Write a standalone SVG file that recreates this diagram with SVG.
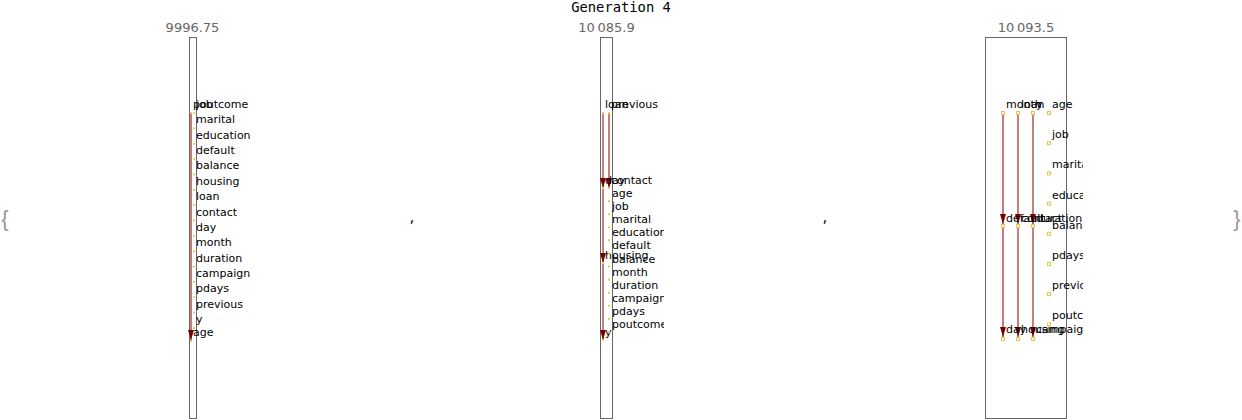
<svg xmlns="http://www.w3.org/2000/svg" width="1242" height="420" viewBox="0 0 1242 420">
<style>
.frame{fill:none;stroke:#666;stroke-width:1}
.lbl{font-family:"DejaVu Sans",sans-serif;font-size:11px;fill:#000}
.val{font-family:"DejaVu Sans",sans-serif;font-size:13px;fill:#666;text-anchor:middle}
.title{font-family:"DejaVu Sans Mono",monospace;font-size:13.8px;fill:#000;text-anchor:middle}
.dot{fill:#e6cf55}
.sq{fill:#fffbe6;stroke:#e0c850;stroke-width:1}
.e1{stroke:#b85a5a;stroke-width:1.6;fill:none}
.e2{stroke:#8b0000;stroke-width:1;fill:none}
.e3{stroke:#a83a3a;stroke-width:1.3;fill:none}
.brace{font-family:"Liberation Sans",sans-serif;font-size:22px;fill:#999;text-anchor:middle}
.comma{font-family:"DejaVu Sans",sans-serif;font-size:15px;fill:#000;text-anchor:middle}
</style>
<defs>
<marker id="ah" markerUnits="userSpaceOnUse" markerWidth="10" markerHeight="6" refX="10" refY="3" orient="auto" viewBox="0 0 10 6">
<path d="M0,0 L10,3 L0,6 z" fill="#7a0000"/>
</marker>
<clipPath id="c2"><rect x="560" y="0" width="104" height="420"/></clipPath>
<clipPath id="c3"><rect x="960" y="0" width="123" height="420"/></clipPath>
</defs>
<text class="title" x="621" y="12">Generation 4</text>
<text class="brace" x="5" y="226">{</text>
<text class="brace" x="1237" y="226">}</text>
<text class="comma" x="412" y="222">,</text>
<text class="comma" x="825" y="222">,</text>

<!-- Panel 1 -->
<g id="panel1">
<text class="val" x="192.5" y="32">9996.75</text>
<rect class="frame" x="189.5" y="37.5" width="7" height="381"/>
<g id="p1-connectors">
<line class="e1" x1="191" y1="113" x2="191" y2="340" marker-end="url(#ah)"/>
</g>
<g id="p1-poutcome"><rect class="dot" x="190" y="112" width="2" height="2"/><text class="lbl" x="193" y="108">poutcome</text></g>
<g id="p1-age"><rect class="dot" x="190" y="340" width="2" height="2"/><text class="lbl" x="193" y="336">age</text></g>
<g id="p1-job"><rect class="dot" x="193" y="112" width="2" height="2"/><text class="lbl" x="196" y="108">job</text></g>
<g id="p1-marital"><rect class="dot" x="193" y="127.4" width="2" height="2"/><text class="lbl" x="196" y="123.4">marital</text></g>
<g id="p1-education"><rect class="dot" x="193" y="142.7" width="2" height="2"/><text class="lbl" x="196" y="138.7">education</text></g>
<g id="p1-default"><rect class="dot" x="193" y="158.1" width="2" height="2"/><text class="lbl" x="196" y="154.1">default</text></g>
<g id="p1-balance"><rect class="dot" x="193" y="173.4" width="2" height="2"/><text class="lbl" x="196" y="169.4">balance</text></g>
<g id="p1-housing"><rect class="dot" x="193" y="188.8" width="2" height="2"/><text class="lbl" x="196" y="184.8">housing</text></g>
<g id="p1-loan"><rect class="dot" x="193" y="204.1" width="2" height="2"/><text class="lbl" x="196" y="200.1">loan</text></g>
<g id="p1-contact"><rect class="dot" x="193" y="219.5" width="2" height="2"/><text class="lbl" x="196" y="215.5">contact</text></g>
<g id="p1-day"><rect class="dot" x="193" y="234.8" width="2" height="2"/><text class="lbl" x="196" y="230.8">day</text></g>
<g id="p1-month"><rect class="dot" x="193" y="250.2" width="2" height="2"/><text class="lbl" x="196" y="246.2">month</text></g>
<g id="p1-duration"><rect class="dot" x="193" y="265.5" width="2" height="2"/><text class="lbl" x="196" y="261.5">duration</text></g>
<g id="p1-campaign"><rect class="dot" x="193" y="280.9" width="2" height="2"/><text class="lbl" x="196" y="276.9">campaign</text></g>
<g id="p1-pdays"><rect class="dot" x="193" y="296.2" width="2" height="2"/><text class="lbl" x="196" y="292.2">pdays</text></g>
<g id="p1-previous"><rect class="dot" x="193" y="311.6" width="2" height="2"/><text class="lbl" x="196" y="307.6">previous</text></g>
<g id="p1-y"><rect class="dot" x="193" y="326.9" width="2" height="2"/><text class="lbl" x="196" y="322.9">y</text></g>
</g>

<!-- Panel 2 -->
<g id="panel2">
<text class="val" x="606.5" y="32">10&#8201;085.9</text>
<rect class="frame" x="600.5" y="37.5" width="12" height="381"/>
<g clip-path="url(#c2)">
<g id="p2-connectors">
<line class="e2" x1="603" y1="113" x2="603" y2="188" marker-end="url(#ah)"/>
<line class="e2" x1="609" y1="113" x2="609" y2="188" marker-end="url(#ah)"/>
<line class="e2" x1="603" y1="188" x2="603" y2="263" marker-end="url(#ah)"/>
<line class="e2" x1="603" y1="263" x2="603" y2="340" marker-end="url(#ah)"/>
</g>
<g id="p2-loan"><rect class="dot" x="602" y="112" width="2" height="2"/><text class="lbl" x="605" y="108">loan</text></g>
<g id="p2-previous"><rect class="dot" x="608" y="112" width="2" height="2"/><text class="lbl" x="611" y="108">previous</text></g>
<g id="p2-day"><rect class="dot" x="602" y="187" width="2" height="2"/><text class="lbl" x="605" y="184">day</text></g>
<g id="p2-contact"><rect class="dot" x="608" y="187" width="2" height="2"/><text class="lbl" x="611" y="184">contact</text></g>
<g id="p2-housing"><rect class="dot" x="602" y="262" width="2" height="2"/><text class="lbl" x="605" y="259">housing</text></g>
<g id="p2-y"><rect class="dot" x="602" y="339" width="2" height="2"/><text class="lbl" x="605" y="336">y</text></g>
<g id="p2-age"><rect class="dot" x="608" y="200" width="2" height="2"/><text class="lbl" x="612" y="197">age</text></g>
<g id="p2-job"><rect class="dot" x="608" y="213.1" width="2" height="2"/><text class="lbl" x="612" y="210.1">job</text></g>
<g id="p2-marital"><rect class="dot" x="608" y="226.2" width="2" height="2"/><text class="lbl" x="612" y="223.2">marital</text></g>
<g id="p2-education"><rect class="dot" x="608" y="239.3" width="2" height="2"/><text class="lbl" x="612" y="236.3">education</text></g>
<g id="p2-default"><rect class="dot" x="608" y="252.4" width="2" height="2"/><text class="lbl" x="612" y="249.4">default</text></g>
<g id="p2-balance"><rect class="dot" x="608" y="265.5" width="2" height="2"/><text class="lbl" x="612" y="262.5">balance</text></g>
<g id="p2-month"><rect class="dot" x="608" y="278.6" width="2" height="2"/><text class="lbl" x="612" y="275.6">month</text></g>
<g id="p2-duration"><rect class="dot" x="608" y="291.7" width="2" height="2"/><text class="lbl" x="612" y="288.7">duration</text></g>
<g id="p2-campaign"><rect class="dot" x="608" y="304.8" width="2" height="2"/><text class="lbl" x="612" y="301.8">campaign</text></g>
<g id="p2-pdays"><rect class="dot" x="608" y="317.9" width="2" height="2"/><text class="lbl" x="612" y="314.9">pdays</text></g>
<g id="p2-poutcome"><rect class="dot" x="608" y="331" width="2" height="2"/><text class="lbl" x="612" y="328">poutcome</text></g>
</g>
</g>

<!-- Panel 3 -->
<g id="panel3">
<text class="val" x="1026" y="32">10&#8201;093.5</text>
<rect class="frame" x="985.5" y="37.5" width="81" height="381"/>
<g clip-path="url(#c3)">
<g id="p3-connectors">
<line class="e1" x1="1003" y1="113" x2="1003" y2="224" marker-end="url(#ah)"/>
<line class="e2" x1="1018" y1="113" x2="1018" y2="224" marker-end="url(#ah)"/>
<line class="e3" x1="1033" y1="113" x2="1033" y2="224" marker-end="url(#ah)"/>
<line class="e1" x1="1003" y1="226" x2="1003" y2="337" marker-end="url(#ah)"/>
<line class="e2" x1="1018" y1="226" x2="1018" y2="337" marker-end="url(#ah)"/>
<line class="e3" x1="1033" y1="226" x2="1033" y2="337" marker-end="url(#ah)"/>
</g>
<g id="p3-month"><rect class="sq" x="1001.5" y="111.5" width="3" height="3"/><text class="lbl" x="1006" y="108">month</text></g>
<g id="p3-loan"><rect class="sq" x="1016.5" y="111.5" width="3" height="3"/><text class="lbl" x="1021" y="108">loan</text></g>
<g id="p3-y"><rect class="sq" x="1031.5" y="111.5" width="3" height="3"/><text class="lbl" x="1036" y="108">y</text></g>
<g id="p3-default"><rect class="sq" x="1001.5" y="224.5" width="3" height="3"/><text class="lbl" x="1006" y="222">default</text></g>
<g id="p3-contact"><rect class="sq" x="1016.5" y="224.5" width="3" height="3"/><text class="lbl" x="1021" y="222">contact</text></g>
<g id="p3-duration"><rect class="sq" x="1031.5" y="224.5" width="3" height="3"/><text class="lbl" x="1036" y="222">duration</text></g>
<g id="p3-day"><rect class="sq" x="1001.5" y="337.5" width="3" height="3"/><text class="lbl" x="1006" y="333">day</text></g>
<g id="p3-housing"><rect class="sq" x="1016.5" y="337.5" width="3" height="3"/><text class="lbl" x="1021" y="333">housing</text></g>
<g id="p3-campaign"><rect class="sq" x="1031.5" y="337.5" width="3" height="3"/><text class="lbl" x="1036" y="333">campaign</text></g>
<g id="p3-age"><rect class="sq" x="1047.5" y="111.5" width="3" height="3"/><text class="lbl" x="1052" y="108">age</text></g>
<g id="p3-job"><rect class="sq" x="1047.5" y="141.7" width="3" height="3"/><text class="lbl" x="1052" y="138.2">job</text></g>
<g id="p3-marital"><rect class="sq" x="1047.5" y="171.9" width="3" height="3"/><text class="lbl" x="1052" y="168.4">marital</text></g>
<g id="p3-education"><rect class="sq" x="1047.5" y="202.1" width="3" height="3"/><text class="lbl" x="1052" y="198.6">education</text></g>
<g id="p3-balance"><rect class="sq" x="1047.5" y="232.3" width="3" height="3"/><text class="lbl" x="1052" y="228.8">balance</text></g>
<g id="p3-pdays"><rect class="sq" x="1047.5" y="262.5" width="3" height="3"/><text class="lbl" x="1052" y="259">pdays</text></g>
<g id="p3-previous"><rect class="sq" x="1047.5" y="292.7" width="3" height="3"/><text class="lbl" x="1052" y="289.2">previous</text></g>
<g id="p3-poutcome"><rect class="sq" x="1047.5" y="322.9" width="3" height="3"/><text class="lbl" x="1052" y="319.4">poutcome</text></g>
</g>
</g>
</svg>
